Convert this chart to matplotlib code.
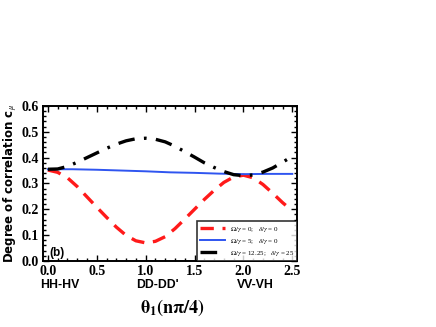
"""Degree of correlation vs polarisation angle, panel (b)."""

import matplotlib

matplotlib.use("Agg")
import matplotlib.pyplot as plt
from matplotlib.ticker import MultipleLocator, FormatStrFormatter

# values
theta = [0.0, 0.1, 0.2, 0.3, 0.4, 0.5, 0.6, 0.7, 0.8, 0.9, 1.0, 1.1, 1.2,
         1.3, 1.4, 1.5, 1.6, 1.7, 1.8, 1.9, 2.0, 2.1, 2.2, 2.3, 2.4, 2.5]
c_omega0 = [0.352, 0.343, 0.322, 0.288, 0.248, 0.208, 0.169, 0.131, 0.099,
            0.078, 0.070, 0.076, 0.094, 0.125, 0.162, 0.200, 0.238, 0.273,
            0.304, 0.325, 0.332, 0.322, 0.296, 0.262, 0.226, 0.194]
c_omega12 = [0.355, 0.356, 0.366, 0.382, 0.400, 0.418, 0.436, 0.452, 0.465,
             0.473, 0.475, 0.471, 0.461, 0.444, 0.423, 0.402, 0.380, 0.362,
             0.346, 0.334, 0.330, 0.333, 0.344, 0.360, 0.382, 0.405]
theta_b = [0.0, 0.25, 0.5, 0.75, 1.0, 1.25, 1.5, 1.75, 2.0, 2.25, 2.5]
c_omega5 = [0.355, 0.355, 0.353, 0.350, 0.347, 0.343, 0.341, 0.338, 0.336,
            0.337, 0.337]

labels = [r"$\Omega/\gamma$ = 0;   $\delta/\gamma$ = 0",
          r"$\Omega/\gamma$ = 5;   $\delta/\gamma$ = 0",
          r"$\Omega/\gamma$ = 12.25;   $\delta/\gamma$ = 25"]
basis_pos = [0.0, 1.0, 2.0]
basis_txt = ["HH-HV", "DD-DD'", "VV-VH"]

plt.rcParams["mathtext.fontset"] = "stix"
plt.rcParams["font.family"] = "Liberation Serif"

fig = plt.figure(figsize=(4.36, 3.27), dpi=100)
ax = fig.add_axes([0.0986, 0.202, 0.583, 0.474])

ax.plot(theta, c_omega0, color="#ff1a1a", lw=2.4, dashes=(4, 2.6), label=labels[0])
ax.plot(theta_b, c_omega5, color="#2f55f0", lw=1.4, label=labels[1])
ax.plot(theta, c_omega12, color="black", lw=2.4, dashes=(5, 2.8, 0.8, 2.8),
        label=labels[2])

ax.set_xlim(-0.05, 2.55)
ax.set_ylim(0, 0.6)
ax.xaxis.set_major_locator(MultipleLocator(0.5))
ax.xaxis.set_minor_locator(MultipleLocator(0.1))
ax.yaxis.set_major_locator(MultipleLocator(0.1))
ax.yaxis.set_minor_locator(MultipleLocator(0.02))
ax.tick_params(which="both", direction="in", top=True, right=True, width=1.0)
ax.tick_params(which="major", length=4, labelsize=10, pad=3)
ax.tick_params(which="minor", length=2)
ax.xaxis.set_major_formatter(FormatStrFormatter("%.1f"))
ax.yaxis.set_major_formatter(FormatStrFormatter("%.1f"))
for lab in ax.get_xticklabels() + ax.get_yticklabels():
    lab.set_fontweight("bold")
for s in ax.spines.values():
    s.set_linewidth(1.4)

# basis names under the 0, 1, 2 ticks
for p, t in zip(basis_pos, basis_txt):
    ax.text(p + 0.12, -0.093, t, ha="center", va="center", fontsize=8.8,
            fontweight="bold", family="Liberation Sans")

ax.text(0.02, 0.032, "(b)", fontsize=8.5, fontweight="bold",
        family="Liberation Sans", va="center")

ax.set_ylabel(r"Degree of correlation c$_{\mu}$", family="DejaVu Sans",
              fontweight="bold", fontsize=8.5, labelpad=2)
fig.text(0.395, 0.058, r"$\mathbf{\theta_1(n\pi/4)}$", ha="center",
         va="center", fontsize=13)

leg = ax.legend(loc="lower right", bbox_to_anchor=(1.0, 0.0), borderaxespad=0,
                fontsize=5, handlelength=3.6, handletextpad=0.6, frameon=True,
                fancybox=False, borderpad=0.45, labelspacing=0.45)
leg.get_frame().set_edgecolor("black")
leg.get_frame().set_linewidth(1.2)

fig.savefig("out.png", dpi=100)
